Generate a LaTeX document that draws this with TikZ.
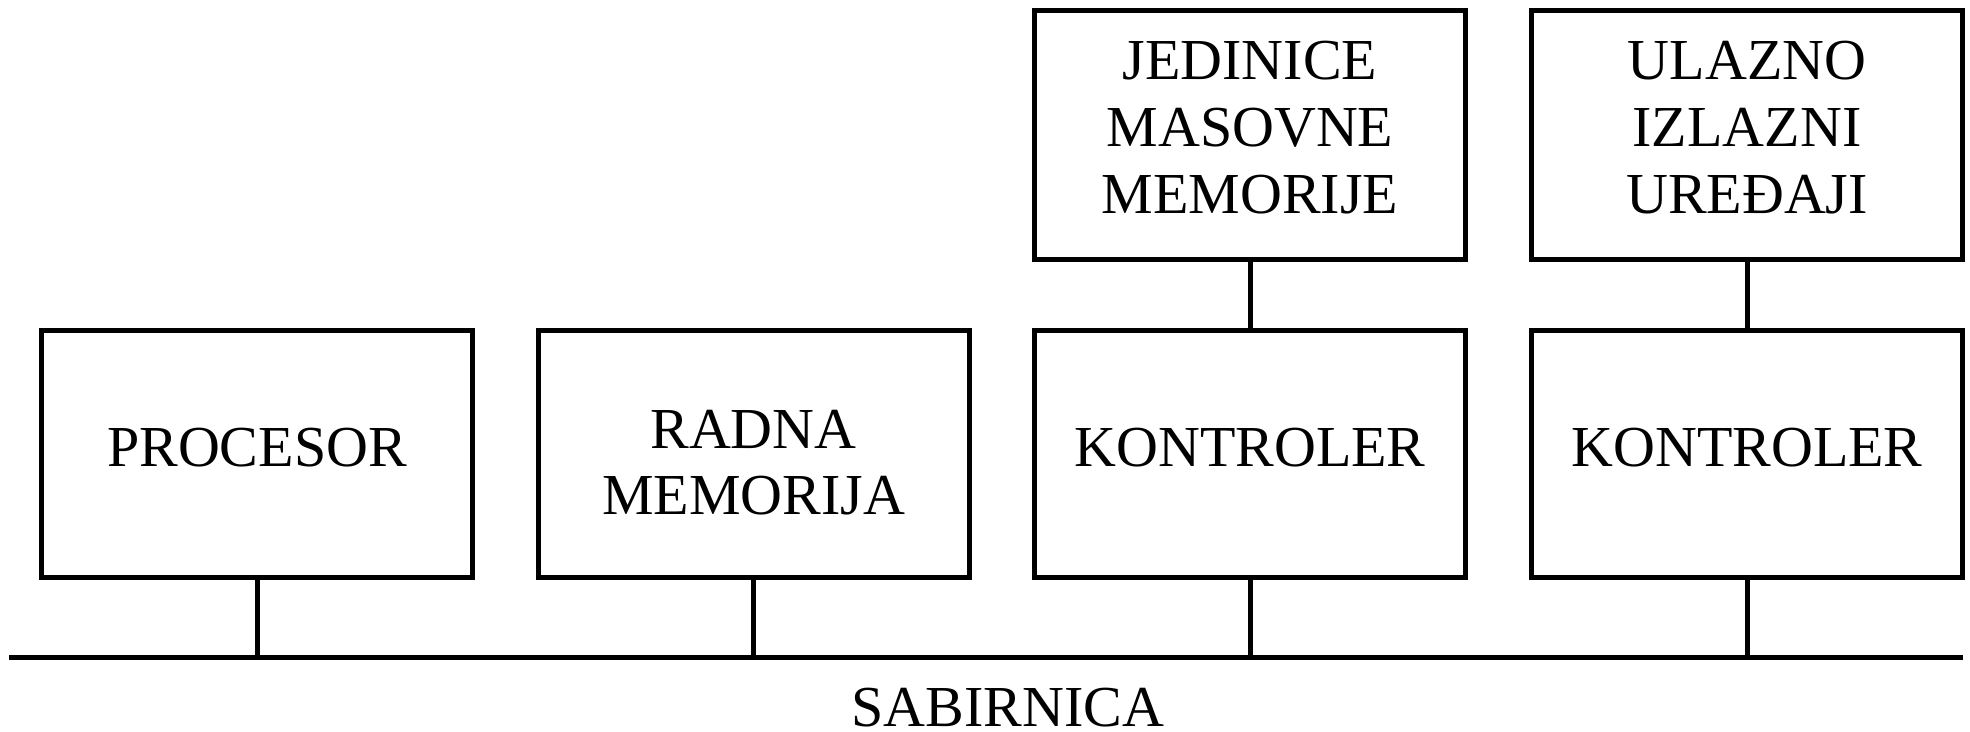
\documentclass[tikz,border=0pt]{standalone}
\usepackage{fontspec}
\setmainfont{Liberation Serif}
\begin{document}
\begin{tikzpicture}[x=1pt,y=-1pt,
  unit/.style={draw, line width=5pt, minimum width=431pt, inner sep=0pt},
  lowunit/.style={unit, minimum height=247.5pt},
  topunit/.style={unit, minimum height=249pt},
  lbl/.style={inner sep=0pt, align=center,
    font=\fontsize{58pt}{66.7pt}\selectfont},
  wire/.style={line width=5pt}]
  \useasboundingbox (0,0) rectangle (1970,731);

  % lower row: processor, main memory and two controllers
  \node[lowunit] (proc) at (257,454) {};
  \node[lowunit] (ram)  at (753.5,454) {};
  \node[lowunit] (kon1) at (1250,454) {};
  \node[lowunit] (kon2) at (1747,454) {};

  % upper row: devices behind the controllers
  \node[topunit] (mass) at (1250,135) {};
  \node[topunit] (io)   at (1747,135) {};

  % labels
  \node[lbl, anchor=base] (tproc) at (257,466.7) {PROCESOR};
  \node[lbl] (tram) at (753.5,462.5) {RADNA\\MEMORIJA};
  \node[lbl, anchor=base] (tkon1) at (1250,466.7) {KONTROLER};
  \node[lbl, anchor=base] (tkon2) at (1747,466.7) {KONTROLER};
  \node[lbl] (tmass) at (1250,127.5) {JEDINICE\\MASOVNE\\MEMORIJE};
  \node[lbl] (tio) at (1747,127.5) {ULAZNO\\IZLAZNI\\UREĐAJI};

  % bus
  \coordinate (busL) at (9,657.5);
  \coordinate (busR) at (1963,657.5);
  \draw[wire] (busL) -- (busR);
  \node[lbl, anchor=base] (tbus) at (1008,726.5) {SABIRNICA};

  % connections to the bus
  \foreach \u in {proc,ram,kon1,kon2}
    \draw[wire] (\u.south) -- (\u.south |- busL);

  % devices to their controllers
  \draw[wire] (mass.south) -- (kon1.north);
  \draw[wire] (io.south) -- (kon2.north);
\end{tikzpicture}
\end{document}
